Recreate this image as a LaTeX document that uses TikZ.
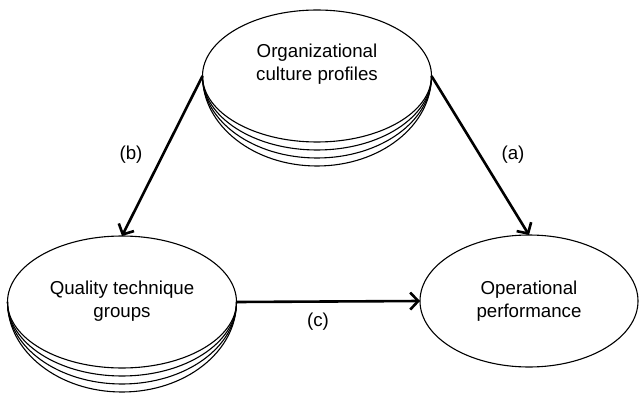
\documentclass[tikz,border=0pt]{standalone}
\usepackage{fontspec}
\setmainfont{Liberation Sans}
\usetikzlibrary{arrows.meta,shapes.geometric,positioning}

\begin{document}
\begin{tikzpicture}[x=1pt,y=-1pt,
  disc/.style={draw,ellipse,line width=1.1pt,inner sep=0pt,outer sep=0pt,minimum width=229pt,minimum height=132pt},
  layer/.style={line width=1.1pt},
  flow/.style={line width=2.6pt,-{Straight Barb[length=8pt,width=17pt]}},
  txt/.style={align=center,font=\fontsize{18.7}{23}\selectfont},
  tag/.style={font=\fontsize{18.7}{23}\selectfont}]
\useasboundingbox (0,0) rectangle (639,393);
% the three ellipses
\node[disc] (culture) at (317,76) {};
\node[disc] (quality) at (122,302) {};
\node[disc,minimum width=218pt] (perf) at (529,301) {};
% stacked layers under two of them
\foreach \r in {74,82,90}{
  \draw[layer] (culture.west) arc[start angle=180,end angle=360,x radius=114.5pt,y radius=\r pt];
  \draw[layer] (quality.west) arc[start angle=180,end angle=360,x radius=114.5pt,y radius=\r pt];
}
\node[txt] (culture text) at (317,64) {Organizational\\culture profiles};
\node[txt] (quality text) at (122,301) {Quality technique\\groups};
\node[txt] (perf text) at (529,301) {Operational\\performance};
% links
\draw[flow] (culture.east) -- (perf.north);
\draw[flow] (culture.west) -- (quality.north);
\draw[flow] (quality.east) -- (perf.west);
\node[tag] (lab a) at (513,155) {(a)};
\node[tag] (lab b) at (131,155) {(b)};
\node[tag] (lab c) at (318,322) {(c)};
\end{tikzpicture}
\end{document}
